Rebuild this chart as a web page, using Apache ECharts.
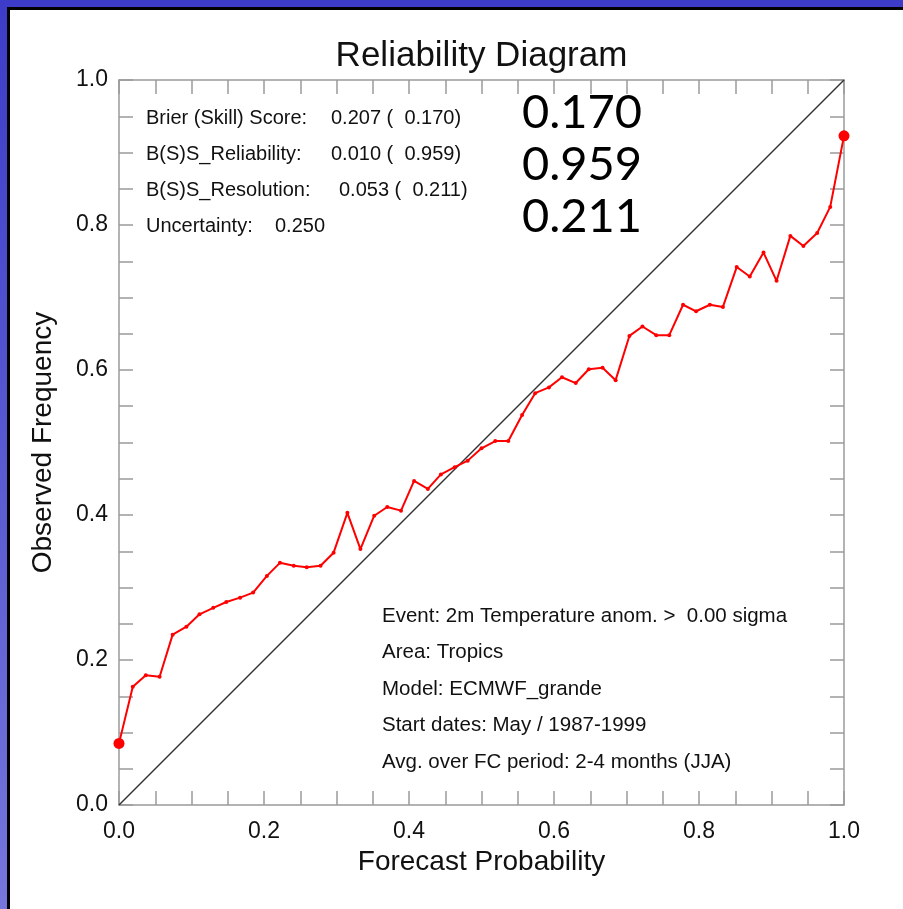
<!DOCTYPE html>
<html>
<head>
<meta charset="utf-8">
<title>Reliability Diagram</title>
<script src="https://cdn.jsdelivr.net/npm/echarts@6/dist/echarts.min.js"></script>
<style>
  html, body { margin: 0; padding: 0; background: #fff; }
  #main { width: 903px; height: 909px; }
</style>
</head>
<body>
<div id="main"></div>
<script>
// forecast probability bins (k/54 members)
var forecastProb = [
  0.000, 0.019, 0.037, 0.056, 0.074, 0.093, 0.111, 0.130, 0.148, 0.167,
  0.185, 0.204, 0.222, 0.241, 0.259, 0.278, 0.296, 0.315, 0.333, 0.352,
  0.370, 0.389, 0.407, 0.426, 0.444, 0.463, 0.481, 0.500, 0.519, 0.537,
  0.556, 0.574, 0.593, 0.611, 0.630, 0.648, 0.667, 0.685, 0.704, 0.722,
  0.741, 0.759, 0.778, 0.796, 0.815, 0.833, 0.852, 0.870, 0.889, 0.907,
  0.926, 0.944, 0.963, 0.981, 1.000
];
// observed frequency
var observedFreq = [
  0.085, 0.163, 0.179, 0.177, 0.235, 0.246, 0.263, 0.272, 0.280, 0.286,
  0.293, 0.316, 0.334, 0.330, 0.328, 0.330, 0.348, 0.403, 0.353, 0.399,
  0.411, 0.406, 0.447, 0.436, 0.456, 0.466, 0.475, 0.492, 0.502, 0.502,
  0.538, 0.568, 0.576, 0.590, 0.582, 0.601, 0.603, 0.586, 0.647, 0.660,
  0.648, 0.648, 0.690, 0.681, 0.690, 0.687, 0.742, 0.729, 0.762, 0.723,
  0.785, 0.771, 0.789, 0.825, 0.923
];
var diagonal = [[0, 0], [1, 1]];

var statLabels = ["Brier (Skill) Score:", "B(S)S_Reliability:", "B(S)S_Resolution:", "Uncertainty:"];
var statValues = ["0.207 (  0.170)", "0.010 (  0.959)", "0.053 (  0.211)", "0.250"];
var bigNumbers = ["0.170", "0.959", "0.211"];
var infoLines = [
  "Event: 2m Temperature anom. >  0.00 sigma",
  "Area: Tropics",
  "Model: ECMWF_grande",
  "Start dates: May / 1987-1999",
  "Avg. over FC period: 2-4 months (JJA)"
];

var FONT = "'Liberation Sans', Arial, sans-serif";
var AXIS_GREY = "#9a9a9a";

var myChart = echarts.init(document.getElementById("main"));

var graphics = [
  // blue frame on the left and top
  {
    type: "rect", shape: { x: 0, y: 0, width: 7, height: 909 },
    style: {
      fill: new echarts.graphic.LinearGradient(0, 0, 0, 1, [
        { offset: 0, color: "#3c3cc8" },
        { offset: 1, color: "#7676dc" }
      ])
    }
  },
  { type: "rect", shape: { x: 0, y: 0, width: 903, height: 7 }, style: { fill: "#3c3cc8" } },
  { type: "rect", shape: { x: 7, y: 7, width: 3, height: 902 }, style: { fill: "#000" } },
  { type: "rect", shape: { x: 7, y: 7, width: 896, height: 3 }, style: { fill: "#000" } }
];

var valueX = [331, 331, 339, 275];
statLabels.forEach(function(s, i) {
  graphics.push({
    type: "text", x: 146, y: 118 + i * 36,
    style: { text: s, font: "20px " + FONT, fill: "#111", textVerticalAlign: "middle" }
  });
  graphics.push({
    type: "text", x: valueX[i], y: 118 + i * 36,
    style: { text: statValues[i], font: "20px " + FONT, fill: "#111", textVerticalAlign: "middle" }
  });
});
bigNumbers.forEach(function(s, i) {
  graphics.push({
    type: "text", x: 522, y: 113 + i * 52,
    style: { text: s, font: "47px Lato, 'Noto Sans', sans-serif", fill: "#000", textVerticalAlign: "middle" }
  });
});
infoLines.forEach(function(s, i) {
  graphics.push({
    type: "text", x: 382, y: 616 + i * 36.5,
    style: { text: s, font: "20.5px " + FONT, fill: "#111", textVerticalAlign: "middle" }
  });
});

function boxAxis(extra) {
  var base = {
    type: "value",
    min: 0,
    max: 1,
    interval: 0.2,
    axisLine: { show: true, onZero: false, lineStyle: { color: AXIS_GREY, width: 1.5 } },
    axisTick: { show: true, inside: true, length: 14, lineStyle: { color: AXIS_GREY, width: 1.5 } },
    minorTick: { show: true, splitNumber: 4, length: 14, lineStyle: { color: AXIS_GREY, width: 1.5 } },
    splitLine: { show: false },
    axisLabel: { show: false }
  };
  return Object.assign(base, extra);
}

var option = {
  backgroundColor: "#ffffff",
  animation: false,
  title: {
    text: "Reliability Diagram",
    left: 481.5,
    top: 39,
    padding: 0,
    textAlign: "center",
    textStyle: { fontFamily: FONT, fontSize: 35, fontWeight: "normal", color: "#111" }
  },
  grid: { left: 119, top: 80, width: 725, height: 725 },
  graphic: graphics,
  xAxis: [
    boxAxis({
      position: "bottom",
      name: "Forecast Probability",
      nameLocation: "middle",
      nameGap: 40,
      nameTextStyle: { fontFamily: FONT, fontSize: 28, color: "#111" },
      axisLabel: {
        show: true, margin: 15, fontFamily: FONT, fontSize: 23, color: "#111",
        formatter: function(v) { return v.toFixed(1); }
      }
    }),
    boxAxis({ position: "top" })
  ],
  yAxis: [
    boxAxis({
      position: "left",
      name: "Observed Frequency",
      nameLocation: "middle",
      nameGap: 62,
      nameTextStyle: { fontFamily: FONT, fontSize: 28, color: "#111" },
      axisLabel: {
        show: true, margin: 11, fontFamily: FONT, fontSize: 23, color: "#111",
        formatter: function(v) { return v.toFixed(1); }
      }
    }),
    boxAxis({ position: "right" })
  ],
  series: [
    {
      name: "perfect",
      type: "line",
      data: diagonal,
      symbol: "none",
      silent: true,
      lineStyle: { color: "#333", width: 1.5 }
    },
    {
      name: "reliability",
      type: "line",
      data: forecastProb.map(function(p, i) { return [p, observedFreq[i]]; }),
      symbol: "circle",
      symbolSize: function(val, params) {
        return params.dataIndex === 0 || params.dataIndex === forecastProb.length - 1 ? 11 : 4;
      },
      clip: false,
      itemStyle: { color: "#ff0000" },
      lineStyle: { color: "#ff0000", width: 2 }
    }
  ]
};
myChart.setOption(option);
</script>
</body>
</html>
